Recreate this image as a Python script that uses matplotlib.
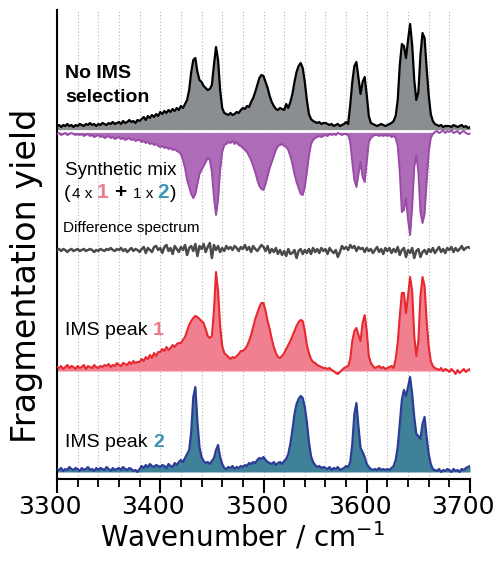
import numpy as np
import matplotlib.pyplot as plt
from matplotlib.transforms import ScaledTranslation

plt.rcParams['font.family'] = ['Liberation Sans', 'DejaVu Sans']

# wavenumber grid, one point every 2 cm-1
wavenumber = np.arange(3300, 3702, 2)

# trace heights (arbitrary units), 3300 -> 3700
no_ims = [
    4, 5, 3, 5, 4, 6, 4, 5, 3, 5,
    4, 6, 5, 4, 6, 5, 7, 5, 6, 4,
    6, 5, 7, 6, 5, 7, 6, 8, 6, 7,
    8, 6, 9, 7, 8, 10, 8, 9, 7, 10,
    9, 11, 13, 10, 14, 12, 15, 13, 16, 14,
    18, 16, 19, 17, 20, 18, 21, 19, 22, 20,
    24, 22, 26, 30, 40, 58, 70, 72, 58, 50,
    48, 44, 42, 40, 41, 45, 65, 83, 70, 40,
    22, 17, 16, 15, 17, 15, 16, 18, 17, 20,
    22, 21, 24, 23, 28, 32, 38, 45, 52, 55,
    54, 48, 42, 34, 28, 24, 21, 20, 22, 21,
    20, 26, 22, 28, 36, 48, 58, 64, 67, 62,
    48, 30, 16, 11, 9, 8, 7, 8, 6, 7,
    7, 6, 5, 6, 4, 5, 6, 4, 5, 6,
    8, 6, 25, 48, 64, 68, 52, 36, 48, 53,
    35, 14, 7, 6, 5, 4, 5, 6, 5, 4,
    5, 6, 7, 9, 14, 30, 65, 86, 84, 72,
    90, 106, 85, 50, 30, 38, 75, 97, 92, 62,
    35, 16, 9, 6, 5, 4, 5, 3, 4, 4,
    4, 3, 5, 4, 3, 4, 5, 3, 4, 2,
    3]

synthetic_mix = [
    2, 1, 3, 2, 1, 3, 2, 1, 2, 3,
    2, 3, 2, 4, 3, 2, 4, 3, 5, 4,
    3, 5, 4, 6, 5, 4, 6, 5, 7, 6,
    5, 7, 6, 8, 7, 6, 8, 7, 9, 8,
    8, 10, 9, 11, 10, 12, 11, 13, 12, 14,
    15, 14, 16, 15, 17, 16, 18, 17, 19, 20,
    22, 28, 36, 48, 55, 62, 66, 62, 52, 42,
    38, 34, 30, 26, 28, 40, 65, 83, 68, 38,
    20, 13, 12, 10, 11, 9, 12, 10, 13, 14,
    16, 18, 20, 24, 28, 34, 40, 48, 54, 57,
    58, 52, 44, 36, 30, 24, 18, 14, 13, 12,
    14, 15, 18, 24, 32, 42, 50, 56, 62, 63,
    55, 40, 24, 12, 8, 6, 5, 4, 5, 4,
    3, 4, 2, 3, 2, 3, 1, 2, 3, 2,
    2, 3, 10, 30, 48, 55, 42, 30, 45, 50,
    30, 10, 6, 4, 3, 3, 4, 3, 4, 3,
    4, 3, 5, 4, 6, 14, 40, 80, 78, 66,
    88, 103, 75, 35, 23, 40, 80, 91, 82, 50,
    20, 6, 2, 0, -1, 1, 0, -2, 1, -1,
    0, -2, 1, 0, -1, 2, 0, -1, 1, 2,
    2]

difference = [
    2, 3, 1, 3, 2, 0, 2, 3, 1, 2,
    3, 1, 2, 3, 1, 2, 3, 2, 0, 2,
    1, 3, 2, 1, 3, 2, 4, 2, 1, 3,
    2, 4, 1, 3, 0, 2, 4, 1, 3, 2,
    0, 3, 5, -1, 4, 2, 0, 5, 6, 2,
    4, -1, 5, 7, 1, 4, -2, 6, 3, 0,
    5, 2, 7, -3, 4, 6, 1, 8, -4, 6,
    3, 8, 0, 5, 9, -6, 7, 2, 6, 0,
    4, 1, 6, 3, 5, 2, 6, 4, 1, 5,
    3, 7, 2, 5, 0, 6, 3, 1, 4, 7,
    5, 1, 6, -1, 3, 0, 4, -2, 2, -3,
    1, -4, 3, -2, -1, 2, -6, 1, 3, -2,
    2, -1, 3, -2, 4, 0, 3, -1, 4, 1,
    3, -2, 4, 1, -1, 2, -5, 0, 6, 3,
    5, 2, 7, 4, 6, 1, 5, 3, 4, 0,
    4, 1, 3, -1, 2, 5, 0, 3, -2, 4,
    1, 4, -1, 3, 0, 5, -3, 2, 4, -5,
    2, -1, 4, -6, 1, 3, -5, 0, 2, -2,
    3, 0, 4, -1, 2, 5, 0, 3, -1, 4,
    2, 5, 0, 4, 1, 3, 6, 2, 4, 5,
    4]

ims_peak1 = [
    4, 3, 5, 2, 4, 6, 3, 5, 4, 2,
    5, 3, 4, 6, 2, 5, 4, 3, 6, 4,
    3, 5, 4, 6, 5, 7, 4, 6, 5, 8,
    6, 5, 8, 7, 6, 9, 7, 10, 8, 9,
    9, 12, 10, 14, 12, 16, 13, 18, 15, 19,
    19, 22, 20, 24, 21, 23, 26, 24, 27, 28,
    28, 31, 34, 40, 46, 50, 53, 55, 54, 52,
    50, 48, 42, 35, 33, 35, 60, 99, 80, 45,
    25, 18, 16, 14, 12, 14, 13, 15, 17, 20,
    20, 22, 25, 30, 36, 44, 52, 58, 64, 68,
    68, 60, 50, 42, 32, 24, 18, 14, 13, 15,
    18, 22, 26, 30, 35, 40, 45, 49, 51, 50,
    40, 26, 18, 12, 9, 8, 6, 5, 4, 3,
    3, 2, 3, 1, 0, -2, -3, -1, 1, 3,
    4, 5, 12, 30, 40, 43, 36, 30, 48, 56,
    40, 15, 8, 5, 3, 4, 5, 3, 4, 2,
    3, 4, 5, 3, 12, 28, 55, 78, 78, 58,
    75, 94, 80, 35, 15, 30, 75, 94, 85, 50,
    25, 10, 5, 3, 2, 1, 3, 0, 2, 1,
    -1, 2, 0, -3, 1, -2, 0, 2, -1, 1,
    2]

ims_peak2 = [
    3, 2, 4, 1, 3, 2, 5, 3, 2, 4,
    3, 1, 4, 2, 3, 5, 2, 3, 1, 4,
    2, 4, 3, 2, 5, 3, 1, 4, 2, 3,
    4, 2, 5, 3, 2, 4, 3, 1, 2, 0,
    3, 6, 4, 7, 5, 8, 6, 5, 7, 6,
    5, 7, 6, 4, 8, 6, 5, 9, 7, 10,
    12, 10, 14, 18, 22, 40, 75, 85, 50, 25,
    15, 11, 9, 10, 8, 11, 14, 22, 27, 15,
    8, 4, 3, 5, 4, 6, 3, 5, 4, 6,
    5, 7, 6, 9, 8, 10, 9, 12, 14, 13,
    15, 12, 10, 9, 8, 10, 7, 9, 10, 8,
    11, 13, 18, 28, 42, 58, 68, 73, 76, 74,
    65, 50, 30, 16, 10, 7, 5, 6, 4, 5,
    4, 3, 5, 2, 4, 3, 5, 2, 3, 4,
    6, 5, 10, 28, 58, 69, 45, 24, 20, 15,
    8, 5, 3, 2, 3, 2, 4, 2, 3, 2,
    3, 2, 4, 6, 12, 25, 48, 72, 82, 76,
    85, 95, 78, 55, 38, 36, 33, 48, 55, 35,
    18, 8, 3, 2, 1, 3, 0, 2, 1, 3,
    2, 0, 3, 1, 2, 0, 3, 2, 4, 5,
    6]

# vertical stacking of the traces
BASE_TOP, BASE_MIX, BASE_DIFF, BASE_P1, BASE_P2 = 342, 340, 220, 101, 0


def px(x, y):
    # image pixel -> data coordinates (for placing the text labels)
    return 3300 + (x - 57) * 400 / 413, 472 - y


fig = plt.figure(figsize=(5.02, 5.77), dpi=100)
ax = fig.add_axes([57 / 502, 98 / 577, 413 / 502, 469 / 577])

top = BASE_TOP + np.array(no_ims)
ax.fill_between(wavenumber, BASE_TOP, top, color='#8b8e91', lw=0, zorder=2)
ax.plot(wavenumber, top, color='black', lw=1.6, zorder=3)

mix = BASE_MIX - np.array(synthetic_mix)
ax.fill_between(wavenumber, BASE_MIX, mix, color='#ad6bb8', lw=0, zorder=2)
ax.plot(wavenumber, mix, color='#9a4ba8', lw=1.4, zorder=3)
ax.axhline(BASE_TOP - 1, color='white', lw=1.8, zorder=2.5)

ax.plot(wavenumber, BASE_DIFF + np.array(difference), color='#4a4a4a', lw=1.8, zorder=3)

p1 = BASE_P1 + np.array(ims_peak1)
ax.fill_between(wavenumber, BASE_P1, p1, color='#f08090', lw=0, zorder=2)
ax.plot(wavenumber, p1, color='#e8282e', lw=1.5, zorder=3)

p2 = BASE_P2 + np.array(ims_peak2)
ax.fill_between(wavenumber, BASE_P2, p2, color='#3e8199', lw=0, zorder=2)
ax.plot(wavenumber, p2, color='#2c3d98', lw=1.6, zorder=3)

ax.set_xlim(3300, 3700)
ax.set_ylim(-7, 462)
ax.set_yticks([])
ax.set_xticks(np.arange(3300, 3701, 100))
ax.set_xticks(np.arange(3300, 3701, 20), minor=True)
ax.grid(True, which='both', axis='x', color='#b4b4b4', lw=0.8, ls=(0, (1, 2)), zorder=0)
ax.tick_params(which='major', length=10, width=1.5, direction='out', pad=1.5, labelsize=18)
ax.tick_params(which='minor', length=5.5, width=1.3, direction='out')
for lbl in ax.get_xticklabels():
    lbl.set_family('DejaVu Sans')
    lbl.set_transform(lbl.get_transform() + ScaledTranslation(-0.07, 0, fig.dpi_scale_trans))
for side in ('top', 'right'):
    ax.spines[side].set_visible(False)
ax.spines['left'].set_linewidth(1.5)
ax.spines['bottom'].set_linewidth(1.5)

ax.set_xlabel('Wavenumber / cm$^{\\mathregular{-1}}$', fontsize=20, family='DejaVu Sans')
ax.xaxis.set_label_coords(0.448, -0.088)
ax.set_ylabel('Fragmentation yield', fontsize=24, family='DejaVu Sans')
ax.yaxis.set_label_coords(-0.033, 0.433)

# labels inside the plot
ax.text(*px(65, 78), 'No IMS', fontsize=14, fontweight='bold', va='baseline')
ax.text(*px(65, 102), 'selection', fontsize=14, fontweight='bold', va='baseline')
ax.text(*px(65, 175), 'Synthetic mix', fontsize=13.5, va='baseline')


def chain(prev, s, y, gap=1.5, **kw):
    return ax.annotate(s, xy=(1, y), xycoords=(prev, 'data'), xytext=(gap, 0),
                       textcoords='offset points', va='baseline', ha='left', **kw)


pink, teal = '#f07a8a', '#3a96b2'
y_mix = px(0, 198)[1]
t = ax.text(px(64, 0)[0], y_mix, '(', fontsize=14, va='baseline')
t = chain(t, '4 x', y_mix, gap=0.8, fontsize=11)
t = chain(t, '1', y_mix, gap=3.5, fontsize=15, fontweight='bold', color=pink)
t = chain(t, '+', y_mix, gap=4, fontsize=15, fontweight='bold')
t = chain(t, '1 x', y_mix, gap=4.5, fontsize=11)
t = chain(t, '2', y_mix, gap=3, fontsize=15, fontweight='bold', color=teal)
t = chain(t, ')', y_mix, gap=0.5, fontsize=14)

ax.text(*px(63, 232), 'Difference spectrum', fontsize=11, va='baseline')

t = ax.text(*px(65, 335), 'IMS peak', fontsize=14, va='baseline')
chain(t, '1', px(0, 335)[1], gap=4, fontsize=14, fontweight='bold', color=pink)
t = ax.text(*px(65, 447), 'IMS peak', fontsize=14, va='baseline')
chain(t, '2', px(0, 447)[1], gap=4, fontsize=14, fontweight='bold', color=teal)

fig.savefig('out.png', dpi=100)
